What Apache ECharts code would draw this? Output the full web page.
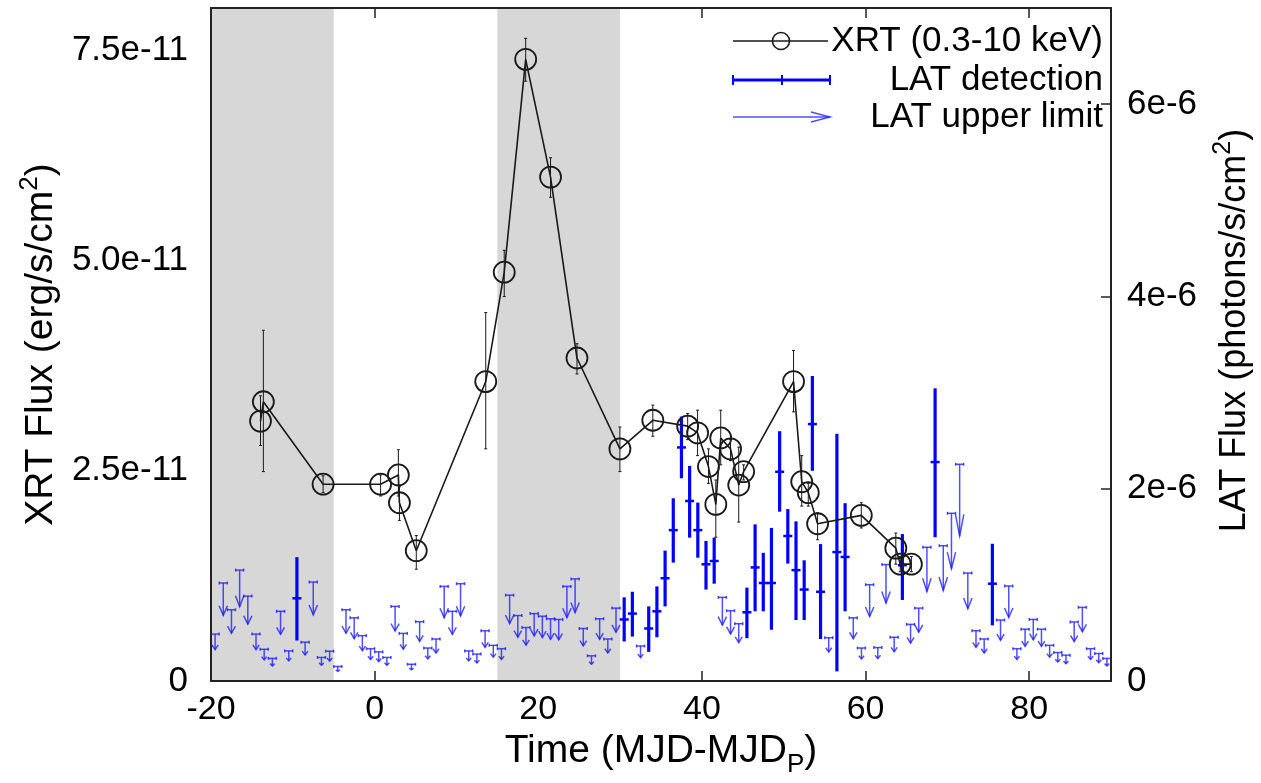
<!DOCTYPE html>
<html>
<head>
<meta charset="utf-8">
<script src="https://cdn.jsdelivr.net/npm/echarts@6/dist/echarts.min.js"></script>
<style>
  html, body { margin: 0; padding: 0; background: #fff; overflow: hidden; }
  #chart { width: 1261px; height: 783px; }
</style>
</head>
<body>
<div id="chart"></div>
<script>
// ---------------- DATA ----------------
// Shaded time intervals (MJD - MJD_P)
const shadedIntervals = [[-20, -5], [15, 30]];

// Axis ticks
const xTickValues = [-20, 0, 20, 40, 60, 80];
const xTickLabels = ['-20', '0', '20', '40', '60', '80'];
const xTickMarks = [0, 40, 60, 80];
const leftTickValues = [0, 2.5, 5, 7.5];          // units of 1e-11 erg/s/cm2
const leftTickLabels = ['0', '2.5e-11', '5.0e-11', '7.5e-11'];
const rightTickValues = [0, 2, 4, 6];             // units of 1e-6 photons/s/cm2
const rightTickLabels = ['0', '2e-6', '4e-6', '6e-6'];
const rightTickMarks = [2, 4, 6];

// XRT (0.3-10 keV) light curve, flux in units of 1e-11 erg/s/cm2
const xrtTime = [-13.95, -13.6, -6.3, 0.73, 2.9, 3.03, 5.09, 13.58, 15.84, 18.46, 21.5, 24.73, 29.98, 34.0,
  38.26, 39.47, 40.8, 41.7, 42.3, 43.5, 44.5, 45.1, 51.2, 52.2, 53.0, 54.14, 59.48, 63.7, 64.24, 65.6];
const xrtFlux = [3.09, 3.32, 2.34, 2.34, 2.45, 2.12, 1.55, 3.56, 4.86, 7.39, 5.99, 3.84, 2.76, 3.10,
  3.03, 2.95, 2.55, 2.10, 2.89, 2.76, 2.33, 2.49, 3.56, 2.37, 2.24, 1.87, 1.97, 1.58, 1.39, 1.39];
const xrtLow = [2.80, 2.49, 2.24, 2.20, 2.20, 1.91, 1.33, 2.76, 4.57, 7.13, 5.75, 3.65, 2.49, 2.91,
  2.87, 2.68, 2.35, 1.71, 2.57, 2.62, 1.89, 2.39, 3.20, 2.08, 2.08, 1.68, 1.82, 1.39, 1.30, 1.30];
const xrtHigh = [3.39, 4.17, 2.44, 2.45, 2.75, 2.31, 1.73, 4.38, 5.12, 7.64, 6.22, 4.01, 3.02, 3.28,
  3.18, 3.22, 2.76, 2.39, 3.22, 2.87, 2.78, 2.57, 3.93, 2.68, 2.35, 2.00, 2.12, 1.76, 1.48, 1.48];

// Fermi-LAT daily detections, flux in units of 1e-6 photons/s/cm2
const latDetTime = [-9.5, 30.5, 31.5, 33.5, 34.5, 35.5, 36.5, 37.5, 38.5, 39.5, 40.5, 41.5, 45.5, 46.5,
  47.5, 48.5, 49.5, 50.5, 51.5, 52.5, 53.5, 54.5, 56.5, 57.5, 64.5, 68.5, 75.5];
const latDetFlux = [0.861, 0.641, 0.702, 0.547, 0.726, 1.070, 1.570, 2.430, 1.873, 1.570, 1.215, 1.249, 0.716, 1.182,
  1.020, 1.020, 2.177, 1.509, 1.154, 0.952, 2.673, 0.929, 1.342, 1.291, 1.205, 2.278, 1.013];
const latDetLow = [0.422, 0.412, 0.463, 0.304, 0.456, 0.777, 1.232, 2.109, 1.492, 1.283, 0.952, 1.013, 0.446, 0.726,
  0.726, 0.534, 1.762, 1.222, 0.635, 0.635, 2.187, 0.438, 0.101, 0.726, 0.844, 1.496, 0.580];
const latDetHigh = [1.289, 0.871, 0.929, 0.777, 0.985, 1.357, 1.901, 2.751, 2.238, 1.856, 1.458, 1.492, 0.972, 1.630,
  1.334, 1.593, 2.599, 1.789, 1.661, 1.256, 3.173, 1.425, 2.572, 1.850, 1.529, 3.045, 1.428];

// Fermi-LAT daily upper limits, units of 1e-6 photons/s/cm2
const latUlTime = [-19.5, -18.5, -17.5, -16.5, -15.5, -14.5, -13.5, -12.5, -11.5, -10.5, -8.5, -7.5, -6.5, -5.5,
  -4.5, -3.5, -2.5, -1.5, -0.5, 0.5, 1.5, 2.5, 3.5, 4.5, 5.5, 6.5, 7.5, 8.5, 9.5, 10.5, 11.5, 12.5, 13.5, 14.5,
  15.5, 16.5, 17.5, 18.5, 19.5, 20.5, 21.5, 22.5, 23.5, 24.5, 25.5, 26.5, 27.5, 28.5, 29.5, 32.5, 42.5, 43.5,
  44.5, 55.5, 58.5, 59.5, 60.5, 61.5, 62.5, 63.5, 65.5, 66.5, 67.5, 69.5, 70.5, 71.5, 72.5, 73.5, 74.5, 76.5,
  77.5, 78.5, 79.5, 80.5, 81.5, 82.5, 83.5, 84.5, 85.5, 86.5, 87.5, 88.5, 89.5];
const latUlFlux = [0.489, 1.020, 0.742, 1.154, 0.884, 0.489, 0.331, 0.236, 0.726, 0.314, 0.405, 1.030, 0.246, 0.311,
  0.152, 0.742, 0.658, 0.473, 0.337, 0.304, 0.246, 0.777, 0.496, 0.175, 0.618, 0.344, 0.438, 0.985, 0.726, 1.013, 0.314, 0.281, 0.524, 0.372,
  0.337, 0.894, 0.682, 0.557, 0.702, 0.675, 0.648, 0.641, 0.985, 1.063, 0.547, 0.263, 0.648, 0.438, 0.759, 0.365, 0.871, 0.732,
  0.597, 0.451, 0.658, 0.344, 1.003, 0.349, 1.212, 0.456, 0.590, 0.759, 1.392, 1.408, 1.745, 2.255, 1.124, 0.524, 0.438, 0.635,
  0.989, 0.337, 0.540, 0.641, 0.540, 0.372, 0.297, 0.270, 0.615, 0.767, 0.337, 0.287, 0.236];

// ---------------- STYLE ----------------
const FONT = '"Liberation Sans", Arial, Helvetica, sans-serif';
const DET_COLOR = '#0000ff';
const UL_COLOR = 'rgba(30,30,255,0.78)';
const XRT_COLOR = '#1a1a1a';
const ARROW_FRAC = 0.67;   // arrow of an upper limit ends at this fraction of the limit

const chart = echarts.init(document.getElementById('chart'), null, { renderer: 'canvas' });

function xrtErrRender(params, api) {
  const t = api.value(0);
  const top = api.coord([t, api.value(2)]);
  const bot = api.coord([t, api.value(1)]);
  const s = { stroke: XRT_COLOR, lineWidth: 1 };
  return {
    type: 'group',
    children: [
      { type: 'line', shape: { x1: top[0], y1: top[1], x2: bot[0], y2: bot[1] }, style: s },
      { type: 'line', shape: { x1: top[0] - 1.5, y1: top[1], x2: top[0] + 1.5, y2: top[1] }, style: s },
      { type: 'line', shape: { x1: bot[0] - 1.5, y1: bot[1], x2: bot[0] + 1.5, y2: bot[1] }, style: s }
    ]
  };
}

function detRender(params, api) {
  const t = api.value(0);
  const c = api.coord([t, api.value(1)]);
  const lo = api.coord([t, api.value(2)]);
  const hi = api.coord([t, api.value(3)]);
  return {
    type: 'group',
    children: [
      { type: 'line', shape: { x1: hi[0], y1: hi[1], x2: lo[0], y2: lo[1] }, style: { stroke: DET_COLOR, lineWidth: 3.2 } },
      { type: 'line', shape: { x1: c[0] - 4.5, y1: c[1], x2: c[0] + 4.5, y2: c[1] }, style: { stroke: DET_COLOR, lineWidth: 2.5 } }
    ]
  };
}

function ulRender(params, api) {
  const t = api.value(0);
  const ul = api.value(1);
  const top = api.coord([t, ul]);
  const tip = api.coord([t, ul * ARROW_FRAC]);
  const L = tip[1] - top[1];
  const head = Math.min(22, L * 0.3);
  const hw = Math.min(4.2, 1.6 + 0.1 * L);
  const s = { stroke: UL_COLOR, lineWidth: 1.5, fill: null };
  const x = top[0];
  return {
    type: 'group',
    children: [
      { type: 'line', shape: { x1: x - 4, y1: top[1], x2: x + 4, y2: top[1] }, style: s },
      { type: 'line', shape: { x1: x - 4, y1: top[1] - 1.5, x2: x - 4, y2: top[1] + 1.5 }, style: s },
      { type: 'line', shape: { x1: x + 4, y1: top[1] - 1.5, x2: x + 4, y2: top[1] + 1.5 }, style: s },
      { type: 'line', shape: { x1: x, y1: top[1], x2: x, y2: tip[1] }, style: s },
      { type: 'polyline', shape: { points: [[x - hw, tip[1] - head], [x, tip[1]], [x + hw, tip[1] - head]] }, style: s }
    ]
  };
}

const axisLineStyle = { color: '#222', width: 2 };

const option = {
  animation: false,
  backgroundColor: '#fff',
  grid: { left: 211, right: 144, top: 8, bottom: 83, containLabel: false },
  xAxis: [
    {
      type: 'value', min: -20, max: 90, position: 'bottom', z: 5,
      axisLine: { show: true, onZero: false, lineStyle: axisLineStyle },
      axisTick: { show: true, inside: true, length: 10, customValues: xTickMarks, lineStyle: { color: '#222', width: 1.5 } },
      axisLabel: {
        customValues: xTickValues,
        formatter: v => xTickLabels[xTickValues.indexOf(v)],
        fontSize: 34, fontFamily: FONT, color: '#000', margin: 12
      },
      splitLine: { show: false },
      name: '{a|Time (MJD-MJD}{s|P}{a|)}',
      nameLocation: 'middle', nameGap: 36,
      nameTextStyle: {
        rich: {
          a: { fontSize: 39, fontFamily: FONT, color: '#000', lineHeight: 44, verticalAlign: 'top' },
          s: { fontSize: 26, fontFamily: FONT, color: '#000', lineHeight: 26, padding: [20, 0, 0, 0], verticalAlign: 'top' }
        }
      }
    },
    {
      type: 'value', min: -20, max: 90, position: 'top', z: 5,
      axisLine: { show: true, onZero: false, lineStyle: axisLineStyle },
      axisTick: { show: true, inside: true, length: 10, customValues: xTickMarks, lineStyle: { color: '#222', width: 1.5 } },
      axisLabel: { show: false },
      splitLine: { show: false }
    }
  ],
  yAxis: [
    {
      type: 'value', min: 0, max: 8, position: 'left', z: 5,
      axisLine: { show: true, onZero: false, lineStyle: axisLineStyle },
      axisTick: { show: false },
      axisLabel: {
        customValues: leftTickValues,
        formatter: v => leftTickLabels[leftTickValues.indexOf(v)],
        fontSize: 35, fontFamily: FONT, color: '#000', margin: 23
      },
      splitLine: { show: false },
      name: '{a|XRT Flux (erg/s/cm}{s|2}{a|)}',
      nameLocation: 'middle', nameRotate: 90, nameGap: 146,
      nameTextStyle: {
        rich: {
          a: { fontSize: 39, fontFamily: FONT, color: '#000', lineHeight: 44, verticalAlign: 'bottom' },
          s: { fontSize: 26, fontFamily: FONT, color: '#000', lineHeight: 26, verticalAlign: 'top' }
        }
      }
    },
    {
      type: 'value', min: 0, max: 7, position: 'right', z: 5,
      axisLine: { show: true, onZero: false, lineStyle: axisLineStyle },
      axisTick: { show: true, inside: true, length: 10, customValues: rightTickMarks, lineStyle: { color: '#222', width: 1.5 } },
      axisLabel: {
        customValues: rightTickValues,
        formatter: v => rightTickLabels[rightTickValues.indexOf(v)],
        fontSize: 35, fontFamily: FONT, color: '#000', margin: 16
      },
      splitLine: { show: false },
      name: '{a|LAT Flux (photons/s/cm}{s|2}{a|)}',
      nameLocation: 'middle', nameRotate: 90, nameGap: 100,
      nameTextStyle: {
        padding: [0, 0, 0, 28],
        rich: {
          a: { fontSize: 36, fontFamily: FONT, color: '#000', lineHeight: 42, verticalAlign: 'bottom' },
          s: { fontSize: 25, fontFamily: FONT, color: '#000', lineHeight: 25, verticalAlign: 'top' }
        }
      }
    }
  ],
  series: [
    {
      type: 'line', name: 'bands', xAxisIndex: 0, yAxisIndex: 0, data: [], z: 1, silent: true,
      markArea: {
        silent: true,
        itemStyle: { color: '#d7d7d7' },
        data: shadedIntervals.map(([a, b]) => [{ xAxis: a }, { xAxis: b }])
      }
    },
    {
      type: 'custom', name: 'LAT upper limit', xAxisIndex: 0, yAxisIndex: 1, z: 3,
      data: latUlTime.map((t, i) => [t, latUlFlux[i]]),
      encode: { x: 0, y: 1 },
      renderItem: ulRender
    },
    {
      type: 'custom', name: 'LAT detection', xAxisIndex: 0, yAxisIndex: 1, z: 4,
      data: latDetTime.map((t, i) => [t, latDetFlux[i], latDetLow[i], latDetHigh[i]]),
      encode: { x: 0, y: [1, 2, 3] },
      renderItem: detRender
    },
    {
      type: 'custom', name: 'XRT err', xAxisIndex: 0, yAxisIndex: 0, z: 5,
      data: xrtTime.map((t, i) => [t, xrtLow[i], xrtHigh[i]]),
      encode: { x: 0, y: [1, 2] },
      renderItem: xrtErrRender
    },
    {
      type: 'line', name: 'XRT (0.3-10 keV)', xAxisIndex: 0, yAxisIndex: 0, z: 6,
      data: xrtTime.map((t, i) => [t, xrtFlux[i]]),
      symbol: 'circle', symbolSize: 21,
      itemStyle: { color: 'rgba(0,0,0,0)', borderColor: XRT_COLOR, borderWidth: 1.8 },
      lineStyle: { color: XRT_COLOR, width: 1.6 }
    }
  ],
  graphic: [
    { type: 'line', shape: { x1: 733, y1: 41, x2: 828, y2: 41 }, style: { stroke: XRT_COLOR, lineWidth: 1.5 }, z: 10 },
    { type: 'circle', shape: { cx: 781, cy: 41, r: 8.5 }, style: { fill: 'rgba(0,0,0,0)', stroke: XRT_COLOR, lineWidth: 1.6 }, z: 10 },
    { type: 'text', z: 10, style: { text: 'XRT (0.3-10 keV)', x: 1103, y: 41, textAlign: 'right', textVerticalAlign: 'middle', align: 'right', verticalAlign: 'middle', font: '35px ' + FONT, fill: '#000' } },
    { type: 'line', shape: { x1: 733, y1: 80, x2: 830, y2: 80 }, style: { stroke: DET_COLOR, lineWidth: 3 }, z: 10 },
    { type: 'line', shape: { x1: 733, y1: 75, x2: 733, y2: 85 }, style: { stroke: DET_COLOR, lineWidth: 2 }, z: 10 },
    { type: 'line', shape: { x1: 830, y1: 75, x2: 830, y2: 85 }, style: { stroke: DET_COLOR, lineWidth: 2 }, z: 10 },
    { type: 'line', shape: { x1: 782, y1: 75, x2: 782, y2: 85 }, style: { stroke: DET_COLOR, lineWidth: 2 }, z: 10 },
    { type: 'text', z: 10, style: { text: 'LAT detection', x: 1103, y: 80, textAlign: 'right', textVerticalAlign: 'middle', align: 'right', verticalAlign: 'middle', font: '35px ' + FONT, fill: '#000' } },
    { type: 'line', shape: { x1: 733, y1: 117, x2: 830, y2: 117 }, style: { stroke: UL_COLOR, lineWidth: 1.5 }, z: 10 },
    { type: 'polyline', shape: { points: [[811, 112], [830, 117], [811, 122]] }, style: { stroke: UL_COLOR, lineWidth: 1.5, fill: null }, z: 10 },
    { type: 'text', z: 10, style: { text: 'LAT upper limit', x: 1103, y: 117, textAlign: 'right', textVerticalAlign: 'middle', align: 'right', verticalAlign: 'middle', font: '35px ' + FONT, fill: '#000' } }
  ]
};

chart.setOption(option);
</script>
</body>
</html>
